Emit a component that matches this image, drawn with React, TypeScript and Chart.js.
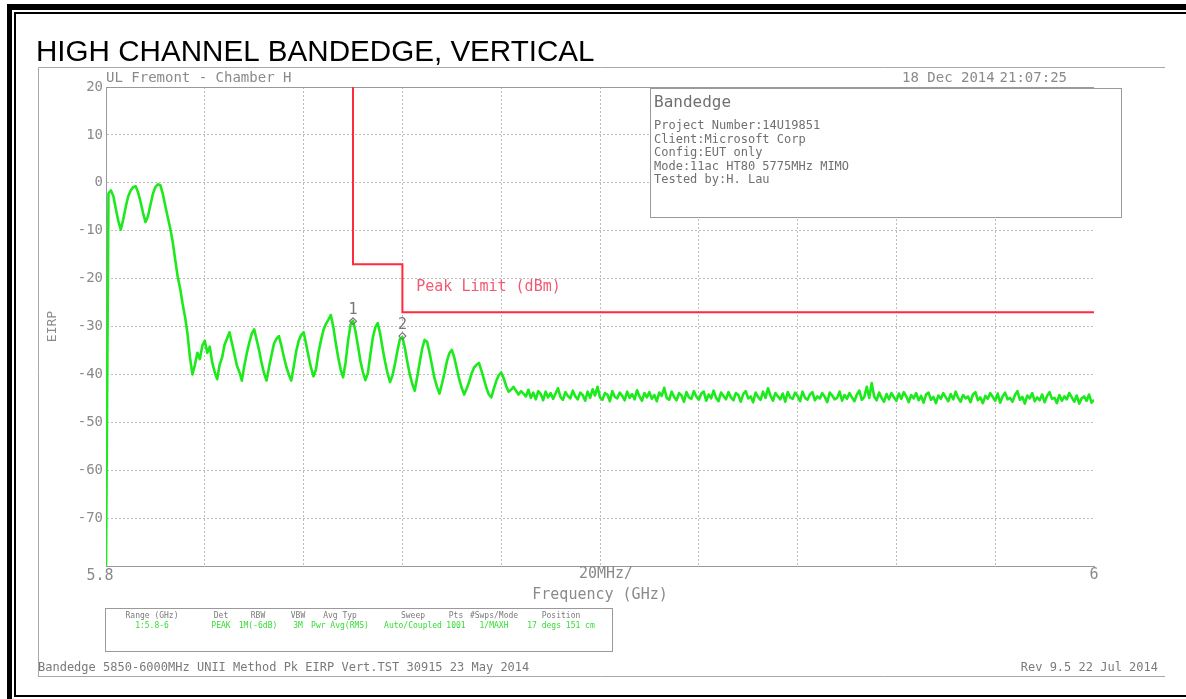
import React, { useEffect, useRef } from 'react';
import { Chart, registerables } from 'chart.js';

Chart.register(...registerables);

// ---- axis definition ----
const X_MIN_GHZ = 5.8;
const X_MAX_GHZ = 6.0;
const X_GRID_STEP_GHZ = 0.02;
const Y_MIN_DBM = -80;
const Y_MAX_DBM = 20;
const Y_STEP_DB = 10;

// ---- trace: sweep start / step, levels (dBm) ----
const TRACE_START_GHZ = 5.8;
const TRACE_STEP_GHZ = 0.0005;
const TRACE_DBM = [
  // 5.800 - 5.8045
  -80, -2.2, -1.6, -2.8, -5.5, -8.0, -9.8, -7.6, -5.0, -2.8,
  -1.6, -0.9, -0.7, -2.0, -4.0, -6.3, -8.2, -7.0, -4.6, -2.3,
  -0.9, -0.3, -0.5, -2.3, -4.8, -7.2, -9.5, -12.3, -16.0, -19.5,
  -22.0, -25.2, -28.0, -31.5, -36.5, -40.0, -38.0, -35.5, -36.8, -34.0,
  -33.0, -35.5, -34.2, -37.5, -39.5, -41.0, -38.0, -36.5, -33.8, -32.5,
  -31.2, -33.5, -35.8, -38.2, -39.5, -41.3, -38.2, -35.6, -33.4, -31.5,
  -30.6, -32.8, -35.0, -37.6, -39.8, -41.3, -38.5, -36.0, -33.6, -32.6,
  -32.0, -34.0, -36.3, -38.4, -40.0, -41.3, -38.4, -35.2, -33.0, -31.8,
  -31.2, -33.6, -36.2, -38.6, -40.4, -39.0, -35.5, -33.0, -30.8, -29.5,
  -28.6, -27.6, -30.0, -33.4, -36.4, -39.0, -40.6, -37.5, -33.0, -29.6,
  -28.8, -31.0, -34.0, -37.2, -39.5, -41.2, -39.8, -36.0, -32.4, -30.2,
  -29.3, -31.5, -34.6, -37.4, -39.8, -41.6, -40.2, -37.8, -35.0, -32.6,
  -32.2, -34.5, -37.4, -40.0, -42.0, -43.4, -40.5, -37.5, -34.6, -32.8,
  -33.2, -35.5, -38.2, -40.8, -42.6, -44.0, -42.0, -39.8, -37.3, -35.6,
  -34.9, -36.5, -38.8, -41.0, -42.8, -44.2, -43.0, -41.6, -39.8, -38.6,
  -38.0, -37.6, -39.2, -41.0, -42.8, -44.2, -44.8, -43.0, -41.4, -40.2,
  -39.6, -40.8, -42.4, -43.6, -43.2, -42.6, -43.4, -44.2, -43.5, -44.0,
  // 5.885 onward: noise floor
  -44.6, -43.2, -44.9, -43.8, -45.2, -43.5, -44.1, -45.4, -43.6, -44.8,
  -43.9, -45.1, -44.0, -42.9, -44.7, -45.3, -43.7, -44.5, -45.0, -43.4,
  -44.6, -45.2, -43.8, -44.3, -45.5, -43.6, -44.9, -43.1, -44.4, -42.6,
  -44.8, -45.3, -43.9, -44.2, -45.6, -43.5, -44.7, -45.0, -43.8, -44.5,
  -45.4, -43.6, -44.9, -44.1, -45.2, -43.3, -44.6, -45.5, -43.9, -44.8,
  -43.7, -45.1, -44.3, -45.6, -43.8, -44.5, -42.8, -44.9, -45.3, -43.6,
  -44.7, -45.4, -43.9, -44.4, -45.7, -43.7, -44.8, -45.1, -43.5, -44.6,
  -45.3, -44.0, -43.6, -45.5, -44.2, -45.0, -43.4, -44.9, -45.6, -43.8,
  -44.5, -45.2, -43.7, -44.8, -45.4, -43.9, -44.3, -45.7, -44.1, -43.5,
  -45.0, -44.6, -45.8, -43.8, -44.7, -45.3, -43.6, -44.9, -42.9, -44.4,
  -45.5, -43.9, -44.6, -45.2, -44.0, -45.7, -43.7, -44.8, -45.1, -43.8,
  -44.5, -45.6, -43.6, -44.9, -45.3, -44.2, -43.7, -45.4, -44.6, -45.0,
  -43.9, -44.7, -45.8, -43.8, -44.4, -45.2, -44.9, -43.6, -45.5, -44.3,
  -45.1, -43.9, -44.8, -45.6, -44.2, -43.4, -45.3, -44.7, -42.6, -44.9,
  -41.8, -44.6, -45.4, -43.8, -44.9, -45.7, -44.1, -45.2, -43.9, -44.8,
  -45.5, -44.0, -45.1, -43.7, -44.6, -45.8, -44.3, -45.0, -43.9, -45.4,
  -44.5, -45.9, -44.2, -43.8, -45.3, -44.7, -46.0, -44.4, -45.1, -43.9,
  -44.8, -45.6, -44.1, -45.2, -43.6, -44.9, -45.7, -44.3, -45.0, -44.6,
  -45.8, -44.2, -43.7, -45.4, -44.8, -46.0, -44.5, -45.1, -43.9, -44.7,
  -45.5, -44.0, -45.9, -44.6, -43.8, -45.2, -44.9, -45.7, -44.3, -43.5,
  -45.3, -44.7, -46.1, -44.4, -45.0, -43.9, -45.6, -44.8, -45.4, -44.2,
  -45.8, -44.5, -43.7, -45.1, -44.9, -46.0, -44.3, -45.5, -44.6, -45.2,
  -43.9, -44.8, -45.7, -44.4, -46.1, -45.0, -44.6, -45.5, -44.2, -45.9,
  -45.3,
];

// ---- limit line ----
const LIMIT_FREQ_GHZ = [5.85, 5.85, 5.86, 5.86, 6.0];
const LIMIT_DBM = [20, -17, -17, -27, -27];
const LIMIT_LABEL = 'Peak Limit (dBm)';

// ---- markers ----
const MARKER_FREQ_GHZ = [5.85, 5.86];
const MARKER_DBM = [-28.9, -32.0];
const MARKER_LABELS = ['1', '2'];

// ---- texts ----
const TITLE = 'HIGH CHANNEL BANDEDGE, VERTICAL';
const SITE_TEXT = 'UL Fremont - Chamber H';
const DATE_TEXT = '18 Dec 2014';
const TIME_TEXT = '21:07:25';
const Y_AXIS_TITLE = 'EIRP';
const X_AXIS_TITLE = 'Frequency (GHz)';
const X_SPAN_TEXT = '20MHz/';
const X_START_LABEL = '5.8';
const X_END_LABEL = '6';
const INFO_TITLE = 'Bandedge';
const INFO_LINES = [
  'Project Number:14U19851',
  'Client:Microsoft Corp',
  'Config:EUT only',
  'Mode:11ac HT80 5775MHz MIMO',
  'Tested by:H. Lau',
];
const TABLE_HEADERS = ['Range (GHz)', 'Det', 'RBW', 'VBW', 'Avg Typ', 'Sweep', 'Pts', '#Swps/Mode', 'Position'];
const TABLE_VALUES = ['1:5.8-6', 'PEAK', '1M(-6dB)', '3M', 'Pwr Avg(RMS)', 'Auto/Coupled', '1001', '1/MAXH', '17 degs 151 cm'];
const FOOTER_LEFT = 'Bandedge 5850-6000MHz UNII Method Pk EIRP Vert.TST 30915 23 May 2014';
const FOOTER_RIGHT = 'Rev 9.5 22 Jul 2014';

const MONO = '"DejaVu Sans Mono", "Liberation Mono", monospace';
const GRAY = '#8a8a8a';

const decorPlugin = {
  id: 'decor',
  beforeDraw(chart: any) {
    const ctx = chart.ctx as CanvasRenderingContext2D;
    const W = chart.width;
    const H = chart.height;
    ctx.save();
    ctx.fillStyle = '#ffffff';
    ctx.fillRect(0, 0, W, H);
    // black double frame
    ctx.fillStyle = '#000000';
    ctx.fillRect(7, 4, W - 7, 6);
    ctx.fillRect(7, 4, 5, H - 4);
    ctx.fillRect(14, 12, W - 14, 2);
    ctx.fillRect(14, 12, 2, 685);
    ctx.fillRect(14, 695, W - 14, 2);
    // gray plot-image box
    ctx.strokeStyle = '#a8a8a8';
    ctx.lineWidth = 1;
    ctx.beginPath();
    ctx.moveTo(38.5, 67.5);
    ctx.lineTo(1165, 67.5);
    ctx.moveTo(38.5, 67.5);
    ctx.lineTo(38.5, 677);
    ctx.moveTo(38.5, 676.5);
    ctx.lineTo(1165, 676.5);
    ctx.stroke();
    // title
    ctx.fillStyle = '#000000';
    ctx.font = '29.6px "Liberation Sans", Arial, sans-serif';
    ctx.textBaseline = 'alphabetic';
    ctx.textAlign = 'left';
    ctx.fillText(TITLE, 36, 61);
    ctx.restore();
  },
  beforeDatasetsDraw(chart: any) {
    const ctx = chart.ctx as CanvasRenderingContext2D;
    const { left, right, top } = chart.chartArea;
    ctx.save();
    // top frame line of the plot
    ctx.strokeStyle = '#999999';
    ctx.lineWidth = 1;
    ctx.beginPath();
    ctx.moveTo(left, Math.round(top) + 0.5);
    ctx.lineTo(right, Math.round(top) + 0.5);
    ctx.stroke();
    // info box (opaque, covers grid)
    ctx.fillStyle = '#ffffff';
    ctx.fillRect(650, 88, 471, 129);
    ctx.strokeStyle = '#9a9a9a';
    ctx.strokeRect(650.5, 88.5, 471, 129);
    ctx.fillStyle = '#707070';
    ctx.textBaseline = 'middle';
    ctx.textAlign = 'left';
    ctx.font = `16px ${MONO}`;
    ctx.fillText(INFO_TITLE, 654, 103);
    ctx.font = `12px ${MONO}`;
    INFO_LINES.forEach((line, i) => ctx.fillText(line, 654, 126 + i * 13.5));
    ctx.restore();
  },
  afterDraw(chart: any) {
    const ctx = chart.ctx as CanvasRenderingContext2D;
    const xs = chart.scales.x;
    const ys = chart.scales.y;
    const { left, right, bottom } = chart.chartArea;
    ctx.save();
    ctx.textBaseline = 'middle';
    ctx.fillStyle = GRAY;
    // header texts
    ctx.font = `14px ${MONO}`;
    ctx.textAlign = 'left';
    ctx.fillText(SITE_TEXT, left, 78);
    ctx.fillText(DATE_TEXT, 902, 78);
    ctx.textAlign = 'right';
    ctx.fillText(TIME_TEXT, 1067, 78);
    // y axis title
    ctx.save();
    ctx.translate(53, (ys.top + ys.bottom) / 2);
    ctx.rotate(-Math.PI / 2);
    ctx.textAlign = 'center';
    ctx.font = `13px ${MONO}`;
    ctx.fillText(Y_AXIS_TITLE, 0, 0);
    ctx.restore();
    // x labels
    ctx.font = `15px ${MONO}`;
    ctx.textAlign = 'center';
    ctx.fillText(X_START_LABEL, xs.getPixelForValue(X_MIN_GHZ) - 6, bottom + 10);
    ctx.fillText(X_END_LABEL, xs.getPixelForValue(X_MAX_GHZ), bottom + 9);
    ctx.fillText(X_SPAN_TEXT, (left + right) / 2 + 6, bottom + 8);
    ctx.fillText(X_AXIS_TITLE, (left + right) / 2, bottom + 29);
    // limit label
    ctx.fillStyle = '#f25a72';
    ctx.textAlign = 'left';
    ctx.fillText(LIMIT_LABEL, xs.getPixelForValue(5.8628), ys.getPixelForValue(-21.7));
    // marker labels
    ctx.fillStyle = '#777777';
    ctx.textAlign = 'center';
    MARKER_LABELS.forEach((lab, i) => {
      ctx.fillText(lab, xs.getPixelForValue(MARKER_FREQ_GHZ[i]), ys.getPixelForValue(MARKER_DBM[i]) - 11);
    });
    // bottom settings table
    ctx.strokeStyle = '#9a9a9a';
    ctx.lineWidth = 1;
    ctx.strokeRect(105.5, 608.5, 507, 43);
    const colX = [152, 221, 258, 298, 340, 413, 456, 494, 561];
    ctx.font = `8px ${MONO}`;
    ctx.fillStyle = '#7a7a7a';
    TABLE_HEADERS.forEach((h, i) => ctx.fillText(h, colX[i], 616));
    ctx.fillStyle = '#33dd33';
    TABLE_VALUES.forEach((v, i) => ctx.fillText(v, colX[i], 626));
    // footer
    ctx.fillStyle = '#7a7a7a';
    ctx.font = `12px ${MONO}`;
    ctx.textAlign = 'left';
    ctx.fillText(FOOTER_LEFT, 38, 668);
    ctx.textAlign = 'right';
    ctx.fillText(FOOTER_RIGHT, 1158, 668);
    ctx.restore();
  },
};

export default function App() {
  const canvasRef = useRef<HTMLCanvasElement>(null);

  useEffect(() => {
    if (!canvasRef.current) return;
    const traceData = TRACE_DBM.map((v, i) => ({ x: TRACE_START_GHZ + i * TRACE_STEP_GHZ, y: v }));
    const limitData = LIMIT_FREQ_GHZ.map((f, i) => ({ x: f, y: LIMIT_DBM[i] }));
    const markerData = MARKER_FREQ_GHZ.map((f, i) => ({ x: f, y: MARKER_DBM[i] }));

    const chart = new Chart(canvasRef.current, {
      type: 'line',
      data: {
        datasets: [
          {
            label: 'Markers',
            data: markerData,
            showLine: false,
            pointStyle: 'rectRot',
            pointRadius: 3.5,
            pointBorderColor: '#7a7a7a',
            pointBackgroundColor: 'rgba(0,0,0,0)',
            pointBorderWidth: 1.2,
          },
          {
            label: 'Trace',
            data: traceData,
            borderColor: 'rgb(28,234,28)',
            borderWidth: 2.6,
            borderJoinStyle: 'round',
            pointRadius: 0,
            tension: 0,
          },
          {
            label: 'Peak Limit (dBm)',
            data: limitData,
            borderColor: '#ff2a3c',
            borderWidth: 2,
            pointRadius: 0,
            tension: 0,
          },
        ],
      },
      options: {
        animation: false,
        responsive: true,
        maintainAspectRatio: false,
        layout: { padding: { left: 0, top: 87, right: 92, bottom: 103 } },
        plugins: {
          legend: { display: false },
          tooltip: { enabled: false },
          title: { display: false },
        },
        scales: {
          x: {
            type: 'linear',
            min: X_MIN_GHZ,
            max: X_MAX_GHZ,
            ticks: { stepSize: X_GRID_STEP_GHZ, display: false },
            grid: {
              drawTicks: false,
              color: (c: any) => {
                const v = c.tick ? c.tick.value : null;
                if (v === null) return 'transparent';
                if (Math.abs(v - X_MIN_GHZ) < 1e-6 || Math.abs(v - X_MAX_GHZ) < 1e-6) return 'transparent';
                return '#bdbdbd';
              },
              lineWidth: 1,
            },
            border: { display: true, color: '#999999', width: 1, dash: [2, 2] },
            afterFit: (s: any) => {
              s.height = 30;
            },
          },
          y: {
            type: 'linear',
            min: Y_MIN_DBM,
            max: Y_MAX_DBM,
            ticks: {
              stepSize: Y_STEP_DB,
              color: GRAY,
              padding: 3,
              font: { family: MONO, size: 14 },
              callback: (v: any) => (v === Y_MIN_DBM ? '' : String(v)),
            },
            grid: {
              drawTicks: false,
              color: (c: any) => {
                const v = c.tick ? c.tick.value : null;
                if (v === null || v === Y_MIN_DBM || v === Y_MAX_DBM) return 'transparent';
                return '#bdbdbd';
              },
              lineWidth: 1,
            },
            border: { display: true, color: '#999999', width: 1, dash: [2, 2] },
            afterFit: (s: any) => {
              s.width = 106;
            },
          },
        },
      },
      plugins: [decorPlugin],
    } as any);

    return () => chart.destroy();
  }, []);

  return (
    <div style={{ position: 'absolute', left: 0, top: 0, width: 1186, height: 699, background: '#ffffff' }}>
      <canvas ref={canvasRef} />
    </div>
  );
}
